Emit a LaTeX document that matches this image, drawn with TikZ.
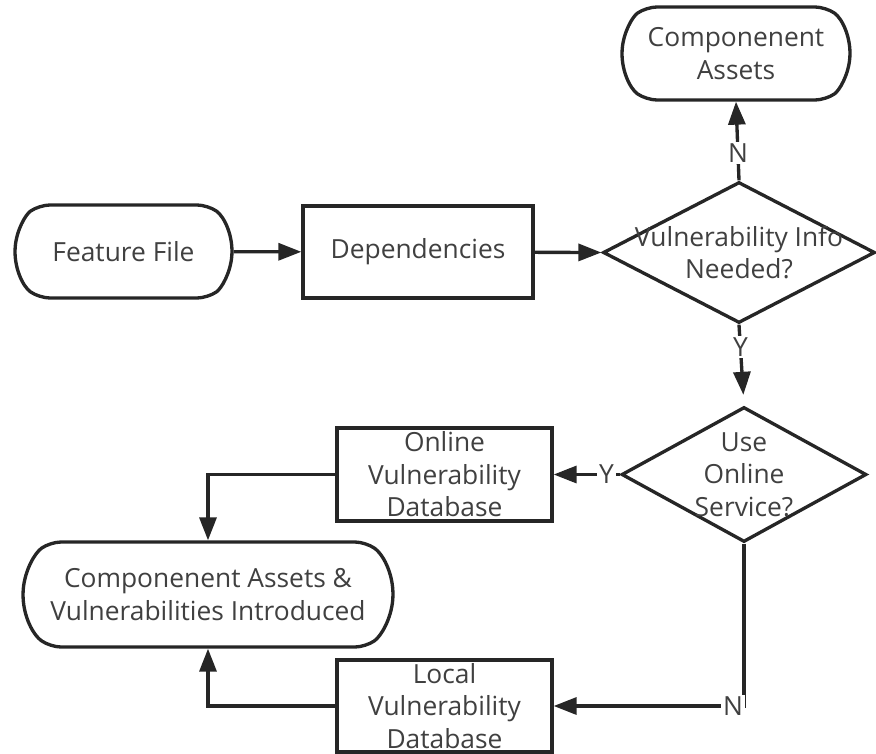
\documentclass[tikz,border=0pt]{standalone}
\usepackage{fontspec}
\setmainfont{Open Sans}
\usepackage{tikz}
\usetikzlibrary{arrows.meta, shapes.geometric, shapes.misc}

\definecolor{inkline}{HTML}{262626}
\definecolor{inktext}{HTML}{404040}

\begin{document}
\begin{tikzpicture}[
  x=0.02cm, y=-0.02cm,
  font=\fontsize{15}{18.5}\selectfont, text=inktext,
  arrow/.style={-{Triangle[length=0.46cm, width=0.34cm]}, line width=1.9pt, draw=inkline},
  term/.style={rounded rectangle, rounded rectangle arc length=110, rounded corners=6pt, draw=inkline, line width=1.9pt, fill=white, align=center, inner sep=0pt},
  proc/.style={rectangle, draw=inkline, line width=1.9pt, fill=white, align=center, inner sep=0pt},
  decision/.style={diamond, draw=inkline, line width=1.9pt, fill=white, inner sep=0pt},
  lbl/.style={fill=white, inner sep=1pt, text=inktext}
]
\useasboundingbox (0,0) rectangle (876,754);
% top row
\node[term, minimum width=4.56cm, minimum height=1.86cm] (compassets) at (736,53.5) {Componenent\\Assets};
\node[term, minimum width=4.34cm, minimum height=1.86cm] (ff) at (123.5,251.5) {Feature File};
\node[proc, minimum width=4.6cm, minimum height=1.84cm] (deps) at (418,252) {Dependencies};
\node[decision, minimum width=5.44cm, minimum height=2.82cm,
  label={[align=center, text=inktext]center:Vulnerability Info\\Needed?}] (needq) at (739,252.5) {};
% lower part
\node[decision, minimum width=4.9cm, minimum height=2.7cm,
  label={[align=center, text=inktext]center:Use\\Online\\Service?}] (onlineq) at (744,474.5) {};
\node[proc, minimum width=4.3cm, minimum height=1.86cm] (onlinedb) at (444.5,474.5) {Online\\Vulnerability\\Database};
\node[term, minimum width=7.4cm, minimum height=2.1cm] (result) at (208,594.5) {Componenent Assets \&\\Vulnerabilities Introduced};
\node[proc, minimum width=4.3cm, minimum height=1.84cm] (localdb) at (444.5,706) {Local\\Vulnerability\\Database};

\draw[arrow] (ff) -- (deps);
\draw[arrow] (deps) -- (needq.west);
\draw[arrow] (needq.north) -- node[lbl, pos=0.35] {N} (compassets.south);
\draw[arrow, shorten >=6pt] (needq.south) -- node[lbl, pos=0.28] {Y} (onlineq.north);
\draw[arrow] (onlineq.west) -- node[lbl, pos=0.2] {Y} (onlinedb.east);
\draw[arrow] (onlineq.south) |- node[lbl, pos=0.5, xshift=-0.22cm] {N} (localdb.east);
\draw[arrow] (onlinedb.west) -| (result.north);
\draw[arrow] (localdb.west) -| (result.south);
\end{tikzpicture}
\end{document}
